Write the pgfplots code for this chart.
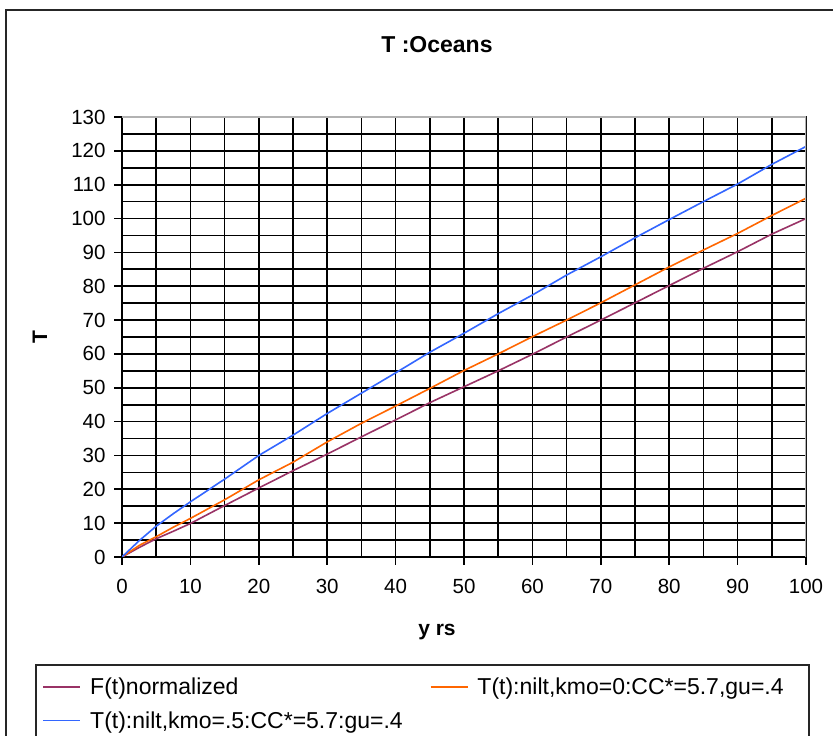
\documentclass[border=0pt]{standalone}
\usepackage{pgfplots}
\pgfplotsset{compat=1.18}
\usepackage{fontspec}
\setmainfont{Liberation Sans}
\definecolor{cPurple}{RGB}{153,51,102}
\definecolor{cOrange}{RGB}{255,102,0}
\definecolor{cBlue}{RGB}{51,102,255}
\pgfplotsset{myleg/.style={legend image code/.code={\draw[##1, line width=1.8pt] (0pt,0pt) -- (37pt,0pt); \path (44pt,0pt);}}}

\begin{document}
\begin{tikzpicture}[x=1pt,y=1pt]
\path[use as bounding box] (0,0) rectangle (833,736);
\clip (0,0) rectangle (833,736);
\fill[white] (0,0) rectangle (833,736);
\draw[line width=1.5pt, black!85] (6,-10) -- (6,726) -- (850,726);
\begin{axis}[
  at={(122pt,179pt)}, anchor=south west,
  width=684pt, height=440pt, scale only axis,
  xmin=0, xmax=100, ymin=0, ymax=130,
  xtick={0,10,...,100}, ytick={0,10,...,130},
  minor xtick={5,15,...,95}, minor ytick={5,15,...,125},
  grid=both,
  major grid style={black, line width=1.7pt},
  minor grid style={black, line width=1.7pt},
  tick align=outside, xtick pos=left, ytick pos=left,
  major tick length=8pt, minor tick length=0pt,
  tick style={black, line width=1.7pt},
  axis line style={black, line width=1.7pt},
  ticklabel style={font=\fontsize{20.5}{24}\selectfont},
  yticklabel style={xshift=-5pt},
  xticklabel style={yshift=-11pt},
  /pgf/number format/assume math mode=true,
  title={T :Oceans},
  title style={at={(axis description cs:0.4605,1.15)}, anchor=center, font=\fontsize{23}{27}\selectfont\bfseries},
  xlabel={y rs}, ylabel={T},
  xlabel style={at={(axis description cs:0.4605,-0.1705)}, anchor=center, font=\fontsize{21}{25}\selectfont\bfseries},
  ylabel style={at={(axis description cs:-0.1199,0.5)}, anchor=center, font=\fontsize{21}{25}\selectfont\bfseries},
  legend columns=2,
  legend cell align=left,
  legend style={at={(axis description cs:-0.1165,-0.2705)}, anchor=north west,
    draw=none, fill=none, inner sep=0pt, row sep=11pt,
    font=\fontsize{23}{27}\selectfont,
    /tikz/every even column/.append style={column sep=25pt}},
]
\addplot[cPurple, line width=1.6pt, myleg] coordinates {
(0,0) (2.5,2.8) (5,5.4) (7.5,7.6) (10,9.9) (15,15.2) (20,20.4) (25,25.5) (30,30.4) (35,35.5) (40,40.5) (45,45.6) (50,50.3) (55,55) (60,59.9) (65,65) (70,70) (75,75.1) (80,80.2) (85,85.3) (90,90.2) (95,95.4) (100,100)};
\addlegendentry{F(t)normalized}
\addplot[cOrange, line width=1.6pt, myleg] coordinates {
(0,0) (2.5,3.4) (5,6) (7.5,8.8) (10,11.4) (15,16.9) (20,22.8) (25,28) (30,34) (35,39.5) (40,44.6) (45,49.8) (50,55.1) (55,60) (60,65.1) (65,70) (70,75.1) (75,80.4) (80,85.7) (85,90.7) (90,95.6) (95,100.9) (100,106)};
\addlegendentry{T(t):nilt,kmo=0:CC*=5.7,gu=.4}
\addplot[cBlue, line width=1.6pt, myleg] coordinates {
(0,0) (2.5,4.8) (5,9.1) (7.5,12.8) (10,16.3) (15,23) (20,30) (25,36) (30,42.4) (35,48.4) (40,54.4) (45,60.5) (50,66.1) (55,71.9) (60,77.4) (65,83.3) (70,88.7) (75,94.3) (80,99.7) (85,105) (90,110.2) (95,116) (100,121.3)};
\addlegendentry{T(t):nilt,kmo=.5:CC*=5.7:gu=.4}
\draw[gray!60, line width=1.8pt] (rel axis cs:0,1) -- (rel axis cs:1,1) -- (rel axis cs:1,0);
\end{axis}
\draw[line width=1.5pt, black!85] (36,71) rectangle (809,-20);
\end{tikzpicture}
\end{document}
